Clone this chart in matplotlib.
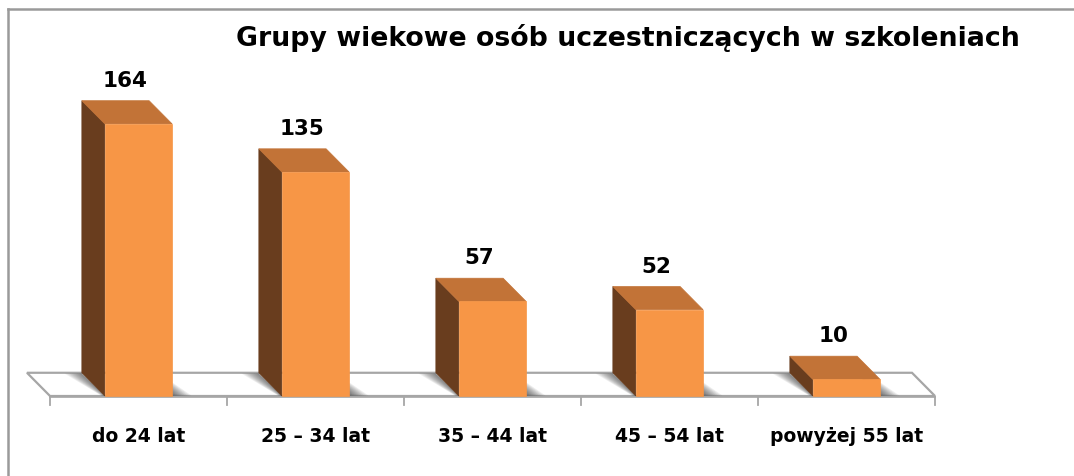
import numpy as np
import matplotlib.pyplot as plt
from matplotlib.patches import Polygon
from matplotlib.lines import Line2D

# dane: grupy wiekowe uczestników szkoleń
categories = ["do 24 lat", "25 – 34 lat", "35 – 44 lat", "45 – 54 lat", "powyżej 55 lat"]
values = [164, 135, 57, 52, 10]
title = "Grupy wiekowe osób uczestniczących w szkoleniach"

# kolory ścian słupka 3D
FRONT = "#F79646"
SIDE = "#693D1E"
TOP = "#C27337"
FLOOR_EDGE = "#A6A6A6"

W, H = 1074, 477
fig = plt.figure(figsize=(W / 100, H / 100), dpi=100)
ax = fig.add_axes([0, 0, 1, 1])
ax.set_axis_off()

# skala: 177 px na kategorię, 1.659 px na jednostkę
px_cat = 177.0
px_val = 1.659
x0_px, y0_px = 50.0, H - 397.0
ax.set_xlim(-0.5 - x0_px / px_cat, (W - x0_px) / px_cat - 0.5)
ax.set_ylim(-y0_px / px_val, (H - y0_px) / px_val)

n = len(values)
hw = 0.19          # połowa szerokości słupka
dx, dy = -0.13, 14.0  # przesunięcie głębi (w jednostkach danych)

# podłoga
floor = [(-0.5, 0), (n - 0.5, 0), (n - 0.5 + dx, dy), (-0.5 + dx, dy)]
ax.add_patch(Polygon(floor, closed=True, facecolor="white", edgecolor=FLOOR_EDGE,
                     lw=1.6, zorder=1))
ax.plot([-0.5, n - 0.5], [-0.8, -0.8], color=FLOOR_EDGE, lw=1.2, zorder=1)
for k in range(n + 1):
    ax.plot([k - 0.5, k - 0.5], [-0.8, -5.5], color=FLOOR_EDGE, lw=1.3, zorder=1)

# cienie na podłodze (warstwy o rosnącym zasięgu dają gradient)
for i, v in enumerate(values):
    for j in range(10):
        ext = 0.01 + j * 0.011
        sh_r = [(i + hw, 0.3), (i + hw + ext, 0.3), (i + hw + dx + ext * 0.6, dy - 1),
                (i + hw + dx, dy - 1)]
        ax.add_patch(Polygon(sh_r, closed=True, facecolor="black", alpha=0.07, lw=0, zorder=2))
        sh_l = [(i - hw + dx, dy - 0.5), (i - hw + dx - ext * 0.9, dy - 0.5),
                (i - hw - ext * 0.2, 0.3), (i - hw, 0.3)]
        ax.add_patch(Polygon(sh_l, closed=True, facecolor="black", alpha=0.06, lw=0, zorder=2))

# słupki 3D
for i, v in enumerate(values):
    front = [(i - hw, 0), (i + hw, 0), (i + hw, v), (i - hw, v)]
    side = [(i - hw + dx, dy), (i - hw, 0), (i - hw, v), (i - hw + dx, v + dy)]
    top = [(i - hw, v), (i + hw, v), (i + hw + dx, v + dy), (i - hw + dx, v + dy)]
    ax.add_patch(Polygon(side, closed=True, facecolor=SIDE, edgecolor=SIDE, lw=0.5, zorder=3))
    ax.add_patch(Polygon(top, closed=True, facecolor=TOP, edgecolor=TOP, lw=0.5, zorder=3))
    ax.add_patch(Polygon(front, closed=True, facecolor=FRONT, edgecolor=FRONT, lw=0.5, zorder=4))
    ax.text(i + dx / 2 - 0.01, v + dy + 12.5, str(v), ha="center", va="center",
            fontsize=15.5, fontweight="bold", color="black", zorder=5)

# etykiety kategorii
for i, c in enumerate(categories):
    ax.text(i, -24, c, ha="center", va="center", fontsize=13.5, fontweight="bold", color="black")

# tytuł
fig.text(628 / W, 1 - 38.5 / H, title, ha="center", va="center", fontsize=19.3,
         fontweight="bold", color="black")

# ramka (górna i lewa krawędź)
fig.add_artist(Line2D([8 / W, 1], [1 - 10 / H, 1 - 10 / H], color="#9A9A9A", lw=1.8,
                      transform=fig.transFigure))
fig.add_artist(Line2D([8 / W, 8 / W], [0, 1 - 10 / H], color="#9A9A9A", lw=1.8,
                      transform=fig.transFigure))

fig.savefig("out.png", dpi=100, facecolor="white")
